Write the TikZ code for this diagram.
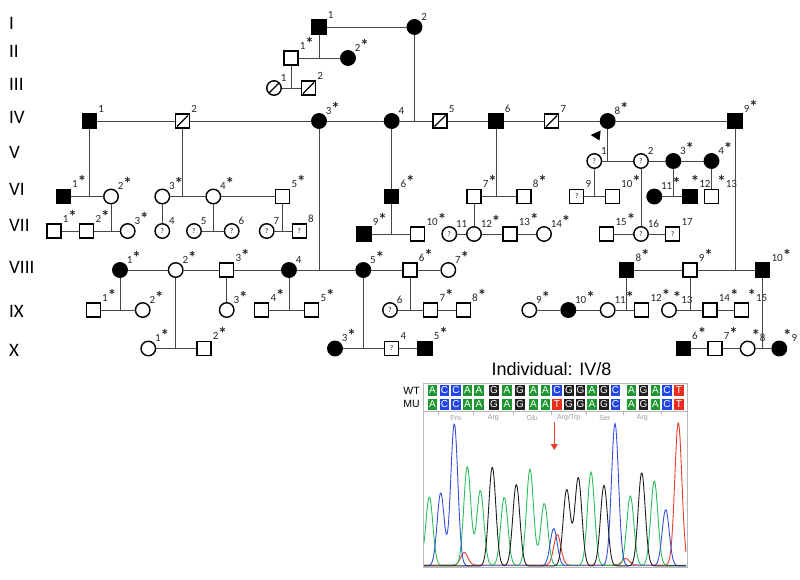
\documentclass[tikz,border=0pt]{standalone}
\usepackage{fontspec}
\setmainfont{Carlito}
\newfontfamily\arialfont{Liberation Sans}
\usetikzlibrary{arrows.meta}

\definecolor{baseA}{RGB}{30,150,50}
\definecolor{baseC}{RGB}{35,70,230}
\definecolor{baseG}{RGB}{30,30,30}
\definecolor{baseT}{RGB}{235,45,30}
\definecolor{peakA}{RGB}{40,190,90}
\definecolor{peakC}{RGB}{50,80,220}
\definecolor{peakG}{RGB}{30,30,30}
\definecolor{peakT}{RGB}{230,60,40}
\definecolor{relline}{RGB}{70,70,70}

\newcommand{\sr}{{\fontsize{17}{17}\selectfont\bfseries *}}

\tikzset{
  person/.style={draw=black, line width=1.4pt, fill=white, inner sep=0pt, font=\fontsize{7}{7}\selectfont},
  male/.style={person, rectangle, minimum size=14pt},
  female/.style={person, circle, minimum size=14.5pt},
  aff/.style={fill=black},
  dec/.style={path picture={\draw[line width=1.2pt] ([shift={(1.5pt,1.5pt)}]path picture bounding box.south west) -- ([shift={(-1.5pt,-1.5pt)}]path picture bounding box.north east);}},
  lbl/.style={font=\fontsize{11}{11}\selectfont, inner sep=1pt, text=black!85},
  gen/.style={font=\fontsize{19}{19}\selectfont, anchor=base west, inner sep=0pt},
  rel/.style={draw=relline, line width=0.9pt},
  ntbox/.style={minimum width=9.5pt, minimum height=11pt, inner sep=0pt, text=white, font=\arialfont\fontsize{10}{10}\selectfont},
  codon/.style={text=gray!80, font=\arialfont\fontsize{7}{7}\selectfont, inner sep=0pt},
  ruler/.style={draw=gray!55, line width=0.8pt},
  trace/.style={line width=0.9pt}
}

\begin{document}
\begin{tikzpicture}[x=1pt,y=-1pt,
  declare function={bell(\t,\m,\h)=\h*exp(-min(((\t-\m)/5)^2,9));}]

\useasboundingbox (0,0) rectangle (800,579);

% generations
\node[gen] (gI) at (9,29) {I};
\node[gen] (gII) at (9,57.3) {II};
\node[gen] (gIII) at (9,90) {III};
\node[gen] (gIV) at (9,123.3) {IV};
\node[gen] (gV) at (9,158.3) {V};
\node[gen] (gVI) at (9,195) {VI};
\node[gen] (gVII) at (9,231.7) {VII};
\node[gen] (gVIII) at (9,273.3) {VIII};
\node[gen] (gIX) at (9,317.3) {IX};
\node[gen] (gX) at (9,356.7) {X};

% I - III
\node[male,aff,label={[lbl]north east:1}] (I1) at (319,27) {};
\node[female,aff,label={[lbl]north east:2}] (I2) at (414.5,27) {};
\node[male,label={[lbl]north east:1\sr}] (II1) at (291,58) {};
\node[female,aff,label={[lbl]north east:2\sr}] (II2) at (348,58) {};
\node[female,dec,label={[lbl]north east:1}] (III1) at (274,88) {};
\node[male,dec,label={[lbl]north east:2}] (III2) at (308.5,88) {};

% IV
\node[male,aff,label={[lbl]north east:1}] (IV1) at (89.5,121) {};
\node[male,dec,label={[lbl]north east:2}] (IV2) at (182.5,121) {};
\node[female,aff,label={[lbl]north east:3\sr}] (IV3) at (319,121) {};
\node[female,aff,label={[lbl]north east:4}] (IV4) at (391.7,121) {};
\node[male,dec,label={[lbl]north east:5}] (IV5) at (440,121) {};
\node[male,aff,label={[lbl]north east:6}] (IV6) at (496,121) {};
\node[male,dec,label={[lbl]north east:7}] (IV7) at (551.7,121) {};
\node[female,aff,label={[lbl]north east:8\sr}] (IV8) at (607.7,121) {};
\node[male,aff,label={[lbl]north east:9\sr}] (IV9) at (735,121) {};

% proband
\fill (590.7,135) -- (600.7,130.5) -- (599.5,140.5) -- cycle;

% V
\node[female,label={[lbl]north east:1}] (V1) at (594.3,161) {?};
\node[female,label={[lbl]north east:2}] (V2) at (641,161) {?};
\node[female,aff,label={[lbl]north east:3\sr}] (V3) at (673.3,161) {};
\node[female,aff,label={[lbl]north east:4\sr}] (V4) at (711.5,161) {};

% VI
\node[male,aff,label={[lbl]north east:1\sr}] (VI1) at (63.3,196.5) {};
\node[female,label={[lbl]north east:2\sr}] (VI2) at (111,196.5) {};
\node[female,label={[lbl]north east:3\sr}] (VI3) at (162.3,196.5) {};
\node[female,label={[lbl]north east:4\sr}] (VI4) at (213.3,196.5) {};
\node[male,label={[lbl]north east:5\sr}] (VI5) at (282.7,196.5) {};
\node[male,aff,label={[lbl]north east:6\sr}] (VI6) at (391.7,196.5) {};
\node[male,label={[lbl]north east:7\sr}] (VI7) at (474,196.5) {};
\node[male,label={[lbl]north east:8\sr}] (VI8) at (524,196.5) {};
\node[male,label={[lbl]north east:9}] (VI9) at (576.7,196.5) {?};
\node[male,label={[lbl]north east:10\sr}] (VI10) at (612.3,196.5) {};
\node[female,aff,label={[lbl]north east:11\sr}] (VI11) at (654.3,196.5) {};
\node[male,aff,label={[lbl,xshift=-8pt]north east:\sr12}] (VI12) at (690,196.5) {};
\node[male,label={[lbl,xshift=-3pt]north east:\sr13}] (VI13) at (711.5,196.5) {};

% VII
\node[male,label={[lbl]north east:1\sr}] (VII1) at (54,231) {};
\node[male,label={[lbl]north east:2\sr}] (VII2) at (86.7,231) {};
\node[female,label={[lbl]north east:3\sr}] (VII3) at (127.7,231) {};
\node[female,label={[lbl]north east:4}] (VII4) at (162.3,231) {?};
\node[female,label={[lbl]north east:5}] (VII5) at (194,231) {?};
\node[female,label={[lbl]north east:6}] (VII6) at (231.7,231) {?};
\node[female,label={[lbl]north east:7}] (VII7) at (266.7,231) {?};
\node[male,label={[lbl]north east:8}] (VII8) at (299.3,231) {?};
\node[male,aff,label={[lbl]north east:9\sr}] (VII9) at (364,234) {};
\node[male,label={[lbl]north east:10\sr}] (VII10) at (417.7,234) {};
\node[female,label={[lbl]north east:11}] (VII11) at (449.3,234) {?};
\node[female,label={[lbl]north east:12\sr}] (VII12) at (474,234) {};
\node[male,label={[lbl]north east:13\sr}] (VII13) at (510,234) {};
\node[female,label={[lbl]north east:14\sr}] (VII14) at (544,234) {};
\node[male,label={[lbl]north east:15\sr}] (VII15) at (606.7,234) {};
\node[female,label={[lbl]north east:16}] (VII16) at (641,234) {?};
\node[male,label={[lbl]north east:17}] (VII17) at (672.7,234) {?};

% VIII
\node[female,aff,label={[lbl]north east:1\sr}] (VIII1) at (120,270) {};
\node[female,label={[lbl]north east:2\sr}] (VIII2) at (175.7,270) {};
\node[male,label={[lbl]north east:3\sr}] (VIII3) at (226.7,270) {};
\node[female,aff,label={[lbl]north east:4}] (VIII4) at (289,270) {};
\node[female,aff,label={[lbl]north east:5\sr}] (VIII5) at (363.3,270) {};
\node[male,label={[lbl]north east:6\sr}] (VIII6) at (410,270) {};
\node[female,label={[lbl]north east:7\sr}] (VIII7) at (448.3,270) {};
\node[male,aff,label={[lbl]north east:8\sr}] (VIII8) at (626.7,270) {};
\node[male,label={[lbl]north east:9\sr}] (VIII9) at (690,270) {};
\node[male,aff,label={[lbl]north east:10\sr}] (VIII10) at (762.7,270) {};

% IX
\node[male,label={[lbl]north east:1\sr}] (IX1) at (93.3,310) {};
\node[female,label={[lbl]north east:2\sr}] (IX2) at (142.7,310) {};
\node[female,label={[lbl]north east:3\sr}] (IX3) at (226.7,310) {};
\node[male,label={[lbl]north east:4\sr}] (IX4) at (261.7,310) {};
\node[male,label={[lbl]north east:5\sr}] (IX5) at (311.7,310) {};
\node[female,label={[lbl]north east:6}] (IX6) at (390,310) {?};
\node[male,label={[lbl]north east:7\sr}] (IX7) at (430.7,310) {};
\node[male,label={[lbl]north east:8\sr}] (IX8) at (463.3,310) {};
\node[female,label={[lbl]north east:9\sr}] (IX9) at (529.3,310) {};
\node[female,aff,label={[lbl]north east:10\sr}] (IX10) at (568.3,310) {};
\node[female,label={[lbl]north east:11\sr}] (IX11) at (607.7,310) {};
\node[male,label={[lbl]north east:12\sr}] (IX12) at (641.7,310) {};
\node[female,label={[lbl,xshift=-3pt]north east:\sr13}] (IX13) at (669,310) {};
\node[male,label={[lbl]north east:14\sr}] (IX14) at (710,310) {};
\node[male,label={[lbl,xshift=-3pt]north east:\sr15}] (IX15) at (741.7,310) {};

% X
\node[female,label={[lbl]north east:1\sr}] (X1) at (148.3,348.5) {};
\node[male,label={[lbl]north east:2\sr}] (X2) at (204,348.5) {};
\node[female,aff,label={[lbl]north east:3\sr}] (X3) at (335,348.5) {};
\node[male,label={[lbl]north east:4}] (X4) at (391.7,348.5) {?};
\node[male,aff,label={[lbl]north east:5\sr}] (X5) at (425,348.5) {};
\node[male,aff,label={[lbl]north east:6\sr}] (X6) at (683.3,348.5) {};
\node[male,label={[lbl]north east:7\sr}] (X7) at (715,348.5) {};
\node[female,label={[lbl,xshift=-3pt]north east:\sr8}] (X8) at (747.7,348.5) {};
\node[female,aff,label={[lbl,xshift=-3pt]north east:\sr9}] (X9) at (779.3,348.5) {};

% couples and sibships
\draw[rel] (I1) -- (I2);
\draw[rel] (I1) -- (I1 |- II1);
\draw[rel] (I2) -- (I2 |- IV4);
\draw[rel] (II1) -- (II2);
\draw[rel] (II1) -- (II1 |- III1);
\draw[rel] (III1) -- (III2);

\draw[rel] (IV1) -- (IV2);
\draw[rel] (IV2) -- (IV3);
\draw[rel] (IV3) -- (IV4);
\draw[rel] (IV4) -- (IV5);
\draw[rel] (IV5) -- (IV6);
\draw[rel] (IV6) -- (IV7);
\draw[rel] (IV7) -- (IV8);
\draw[rel] (IV8) -- (IV9);
\draw[rel] (IV1) -- (IV1 |- VI1);
\draw[rel] (IV2) -- (IV2 |- VI3);
\draw[rel] (IV3) -- (IV3 |- VIII4);
\draw[rel] (IV4) -- (VI6);
\draw[rel] (IV6) -- (IV6 |- VI7);
\draw[rel] (IV8) -- (IV8 |- V1);
\draw[rel] (IV9) -- (IV9 |- VIII9);

\draw[rel] (V1) -- (V2);
\draw[rel] (V2) -- (V3);
\draw[rel] (V3) -- (V4);
\draw[rel] (V1) -- (V1 |- VI9);
\draw[rel] (V2) -- (VII16);
\draw[rel] (V3) -- (V3 |- VI11);
\draw[rel] (V4) -- (VI13);

\draw[rel] (VI1) -- (VI2);
\draw[rel] (VI3) -- (VI4);
\draw[rel] (VI4) -- (VI5);
\draw[rel] (VI7) -- (VI8);
\draw[rel] (VI9) -- (VI10);
\draw[rel] (VI11) -- (VI12);
\draw[rel] (VI2) -- (VI2 |- VII2);
\draw[rel] (VI3) -- (VII4);
\draw[rel] (VI4) -- (VI4 |- VII5);
\draw[rel] (VI5) -- (VI5 |- VII7);
\draw[rel] (VI6) -- (VI6 |- VII9);
\draw[rel] (VI7) -- (VII12);

\draw[rel] (VII1) -- (VII2);
\draw[rel] (VII2) -- (VII3);
\draw[rel] (VII5) -- (VII6);
\draw[rel] (VII7) -- (VII8);
\draw[rel] (VII9) -- (VII10);
\draw[rel] (VII11) -- (VII12);
\draw[rel] (VII12) -- (VII13);
\draw[rel] (VII13) -- (VII14);
\draw[rel] (VII15) -- (VII16);
\draw[rel] (VII16) -- (VII17);

\draw[rel] (VIII1) -- (VIII2);
\draw[rel] (VIII2) -- (VIII3);
\draw[rel] (VIII3) -- (VIII4);
\draw[rel] (VIII4) -- (VIII5);
\draw[rel] (VIII5) -- (VIII6);
\draw[rel] (VIII6) -- (VIII7);
\draw[rel] (VIII8) -- (VIII9);
\draw[rel] (VIII9) -- (VIII10);
\draw[rel] (VIII1) -- (VIII1 |- IX1);
\draw[rel] (VIII2) -- (VIII2 |- X1);
\draw[rel] (VIII3) -- (IX3);
\draw[rel] (VIII4) -- (VIII4 |- IX4);
\draw[rel] (VIII5) -- (VIII5 |- X3);
\draw[rel] (VIII6) -- (VIII6 |- IX6);
\draw[rel] (VIII8) -- (VIII8 |- IX11);
\draw[rel] (VIII9) -- (VIII9 |- IX13);
\draw[rel] (VIII10) -- (VIII10 |- X8);

\draw[rel] (IX1) -- (IX2);
\draw[rel] (IX4) -- (IX5);
\draw[rel] (IX6) -- (IX7);
\draw[rel] (IX7) -- (IX8);
\draw[rel] (IX9) -- (IX10);
\draw[rel] (IX10) -- (IX11);
\draw[rel] (IX11) -- (IX12);
\draw[rel] (IX13) -- (IX14);
\draw[rel] (IX14) -- (IX15);

\draw[rel] (X1) -- (X2);
\draw[rel] (X3) -- (X4);
\draw[rel] (X4) -- (X5);
\draw[rel] (X6) -- (X7);
\draw[rel] (X7) -- (X8);
\draw[rel] (X8) -- (X9);

% sequence panel
\node[anchor=base west, inner sep=0pt, font=\arialfont\fontsize{18}{18}\selectfont] (indiv) at (491.5,375) {Individual: IV/8};
\node[anchor=east, inner sep=0pt, font=\arialfont\fontsize{10.5}{10.5}\selectfont] (wtlab) at (420,390.5) {WT};
\node[anchor=east, inner sep=0pt, font=\arialfont\fontsize{10.5}{10.5}\selectfont] (mulab) at (420,404) {MU};

\draw[ruler] (423,383) rectangle (687,567);
\draw[ruler] (423,411) -- (687,411);
\foreach \tx in {438.5,473.25,513.5,551.25,586.25,623.5,661.25}
  \draw[ruler] (\tx,411) -- (\tx,415);

\foreach \i/\bx/\wb/\mb in {1/432.5/A/A, 2/444.5/C/C, 3/456/C/C, 4/467.5/A/A, 5/479/A/A, 6/494/G/G, 7/507/A/A, 8/520/G/G, 9/533.5/A/A, 10/545.5/A/A, 11/557/C/T, 12/569/G/G, 13/580.5/G/G, 14/592/A/A, 15/604/G/G, 16/615.5/C/C, 17/631.5/A/A, 18/643.5/G/G, 19/655.5/A/A, 20/667/C/C, 21/679/T/T}
{
  \node[ntbox, fill=base\wb] (wt\i) at (\bx,390.5) {\wb};
  \node[ntbox, fill=base\mb] (mu\i) at (\bx,404) {\mb};
}

\node[codon] (aa1) at (455.9,418) {Pro};
\node[codon] (aa2) at (493.4,418) {Arg};
\node[codon] (aa3) at (532.4,418) {Glu};
\node[codon] (aa4) at (568.75,418) {Arg/Trp};
\node[codon] (aa5) at (604.9,418) {Ser};
\node[codon] (aa6) at (642.4,418) {Arg};

% traces
\draw[trace, peakT] plot[domain=424:686, samples=263, smooth] (\x,{565-bell(\x,464.3,12.5)-bell(\x,557.3,30.5)-bell(\x,625.7,6.5)-bell(\x,678.3,142.3)});
\draw[trace, peakA] plot[domain=424:686, samples=263, smooth] (\x,{565.5-bell(\x,429.3,68.5)-bell(\x,467.3,98.8)-bell(\x,480.3,74.8)-bell(\x,504.3,68.2)-bell(\x,530,96.2)-bell(\x,544.3,62.2)-bell(\x,591,93.2)-bell(\x,630.3,69.5)-bell(\x,654.3,84.5)});
\draw[trace, peakC] plot[domain=424:686, samples=263, smooth] (\x,{565.8-bell(\x,440.7,72.8)-bell(\x,454.3,142)-bell(\x,553.7,37.2)-bell(\x,615,142.2)-bell(\x,665.7,56.2)});
\draw[trace, peakG] plot[domain=424:686, samples=263, smooth] (\x,{566-bell(\x,492.3,98.8)-bell(\x,516.3,81.5)-bell(\x,566.7,76.2)-bell(\x,578.3,88.2)-bell(\x,604,80.5)-bell(\x,641.7,93.2)});

% mutation
\coordinate (mutfrom) at (554.3,422);
\coordinate (mutto) at (554.3,450);
\draw[peakT, line width=1.3pt, -{Triangle[width=7pt,length=6pt]}] (mutfrom) -- (mutto);

\end{tikzpicture}
\end{document}
